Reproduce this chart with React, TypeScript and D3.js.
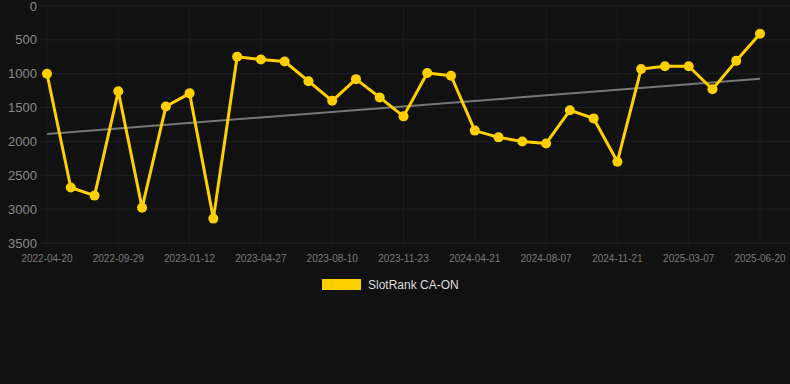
import React from "react";
import * as d3 from "d3";

const labels = [
  "2022-04-20", "", "", "2022-09-29", "", "", "2023-01-12", "", "", "2023-04-27", "", "",
  "2023-08-10", "", "", "2023-11-23", "", "", "2024-04-21", "", "", "2024-08-07", "", "",
  "2024-11-21", "", "", "2025-03-07", "", "", "2025-06-20",
];
const values = [
  1000, 2680, 2800, 1260, 2980, 1485, 1290, 3140, 750, 790, 820, 1110, 1400, 1080, 1350, 1630,
  990, 1030, 1840, 1940, 2000, 2030, 1540, 1660, 2300, 930, 890, 890, 1230, 810, 410,
];
const trendValues = [1890, 1075];
const yTicks = [0, 500, 1000, 1500, 2000, 2500, 3000, 3500];
const seriesName = "SlotRank CA-ON";

export default function App() {
  const W = 790, H = 384;
  const left = 47, right = 760, top = 6, bottom = 243;
  const x = d3.scaleLinear().domain([0, values.length - 1]).range([left, right]);
  const y = d3.scaleLinear().domain([0, 3500]).range([top, bottom]);
  const line = d3.line<number>().x((_, i) => x(i)).y((d) => y(d));
  const gold = "#FFD000";
  return (
    <div style={{ position: "absolute", left: 0, top: 0 }}>
      <svg width={W} height={H} style={{ display: "block", background: "#111111", fontFamily: "Arial, 'Liberation Sans', sans-serif" }}>
        {yTicks.map((t) => (
          <line key={"g" + t} x1={41} x2={790} y1={y(t)} y2={y(t)} stroke={t === 3500 ? "#2a2a2a" : "#1f1f1f"} strokeWidth={1} />
        ))}
        {labels.map((l, i) =>
          l ? (
            <line key={"v" + i} x1={x(i)} x2={x(i)} y1={top} y2={bottom + 6} stroke="#1b1b1b" strokeWidth={1} />
          ) : null
        )}
        {yTicks.map((t) => (
          <text key={"y" + t} x={37} y={y(t)} dy="0.35em" textAnchor="end" fill="#8a8a8a" fontSize={13}>
            {t}
          </text>
        ))}
        {labels.map((l, i) =>
          l ? (
            <text key={"x" + i} x={x(i)} y={262} textAnchor="middle" fill="#7a7a7a" fontSize={10}>
              {l}
            </text>
          ) : null
        )}
        <line x1={x(0)} x2={x(values.length - 1)} y1={y(trendValues[0])} y2={y(trendValues[1])} stroke="#777" strokeWidth={2} />
        <path d={line(values) || ""} fill="none" stroke={gold} strokeWidth={3} strokeLinejoin="round" />
        {values.map((v, i) => (
          <circle key={"p" + i} cx={x(i)} cy={y(v)} r={5} fill={gold} />
        ))}
        <rect x={322} y={279} width={39} height={11} fill={gold} />
        <text x={368} y={285} dy="0.35em" fill="#dddddd" fontSize={12}>
          {seriesName}
        </text>
      </svg>
    </div>
  );
}
